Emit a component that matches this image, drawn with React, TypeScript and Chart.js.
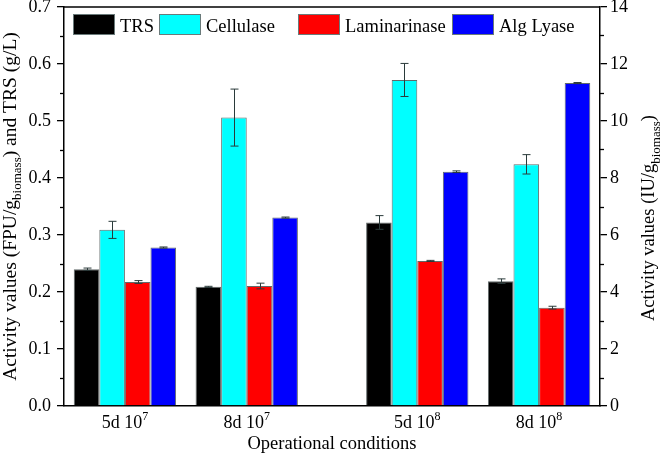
import React, { useEffect, useRef } from "react";
import { Chart, registerables } from "chart.js";

Chart.register(...registerables);

// Operational conditions (the part after "^" is drawn as a superscript)
const conditionLabels = ["5d 10^7", "8d 10^7", "5d 10^8", "8d 10^8"];
// Positions of the groups on the x axis (the two inocula are set apart)
const groupPositions = [1, 2, 3.4, 4.4];

// Left axis: TRS (g/L) and cellulase (FPU/g biomass)
const trs = [0.24, 0.209, 0.322, 0.219];
const trsErr = [0.002, 0.001, 0.012, 0.004];
const cellulase = [0.309, 0.506, 0.572, 0.424];
const cellulaseErr = [0.015, 0.05, 0.029, 0.017];

// Right axis: laminarinase and alginate lyase (IU/g biomass)
const laminarinase = [4.35, 4.21, 5.09, 3.45];
const laminarinaseErr = [0.05, 0.1, 0.02, 0.05];
const algLyase = [5.56, 6.61, 8.22, 11.33];
const algLyaseErr = [0.02, 0.02, 0.03, 0.02];

// Axis ranges
const leftMax = 0.7;
const leftStep = 0.1;
const rightMax = 14;
const rightStep = 2;

const FONT = '"Liberation Serif", "Times New Roman", Times, serif';

type Part = [string, "n" | "sub" | "sup"];

function partFont(kind: string, size: number) {
  return `${kind === "n" ? size : Math.round(size * 0.68)}px ${FONT}`;
}

// Draws a run of text with sub/superscripts, centred on x, baseline y
function drawRich(ctx: CanvasRenderingContext2D, parts: Part[], x: number, y: number, size: number) {
  let total = 0;
  const widths = parts.map(([t, k]) => {
    ctx.font = partFont(k, size);
    const w = ctx.measureText(t).width;
    total += w;
    return w;
  });
  let cx = x - total / 2;
  ctx.textAlign = "left";
  ctx.textBaseline = "alphabetic";
  parts.forEach(([t, k], i) => {
    ctx.font = partFont(k, size);
    const dy = k === "sub" ? size * 0.3 : k === "sup" ? -size * 0.42 : 0;
    ctx.fillText(t, cx, y + dy);
    cx += widths[i];
  });
}

function splitSup(label: string): Part[] {
  const [base, exp] = label.split("^");
  return exp ? [[base, "n"], [exp, "sup"]] : [[base, "n"]];
}

const errorsByDataset = [trsErr, cellulaseErr, laminarinaseErr, algLyaseErr];

const decorPlugin = {
  id: "decor",
  afterDatasetsDraw(chart: any) {
    const ctx: CanvasRenderingContext2D = chart.ctx;
    ctx.save();
    ctx.strokeStyle = "#2a3a3a";
    ctx.lineWidth = 1;
    chart.data.datasets.forEach((ds: any, di: number) => {
      const meta = chart.getDatasetMeta(di);
      const yScale = chart.scales[meta.yAxisID];
      const errs = errorsByDataset[di];
      meta.data.forEach((bar: any, i: number) => {
        const v = ds.data[i].y;
        const e = errs[i];
        const yt = yScale.getPixelForValue(v + e);
        const yb = yScale.getPixelForValue(v - e);
        const x = Math.round(bar.x) + 0.5;
        const cap = 4;
        ctx.beginPath();
        ctx.moveTo(x, yt);
        ctx.lineTo(x, yb);
        ctx.moveTo(x - cap, yt);
        ctx.lineTo(x + cap, yt);
        ctx.moveTo(x - cap, yb);
        ctx.lineTo(x + cap, yb);
        ctx.stroke();
      });
    });
    ctx.restore();
  },
  afterDraw(chart: any) {
    const ctx: CanvasRenderingContext2D = chart.ctx;
    const area = chart.chartArea;
    ctx.save();
    ctx.fillStyle = "#000";
    ctx.strokeStyle = "#000";

    // top frame line
    ctx.lineWidth = 1.5;
    ctx.beginPath();
    ctx.moveTo(area.left, area.top);
    ctx.lineTo(area.right, area.top);
    ctx.stroke();

    // minor ticks halfway between major ticks
    ctx.lineWidth = 1.3;
    const minor = (scale: any, x0: number, dir: number) => {
      const ticks = scale.ticks;
      for (let i = 0; i < ticks.length - 1; i++) {
        const y = Math.round(scale.getPixelForValue((ticks[i].value + ticks[i + 1].value) / 2)) + 0.5;
        ctx.beginPath();
        ctx.moveTo(x0, y);
        ctx.lineTo(x0 + dir * 4, y);
        ctx.stroke();
      }
    };
    minor(chart.scales.y, area.left, -1);
    minor(chart.scales.y1, area.right, 1);

    // legend inside the plot
    const boxX = [73, 159, 298, 452];
    chart.data.datasets.forEach((ds: any, i: number) => {
      const bx = boxX[i];
      ctx.fillStyle = ds.backgroundColor;
      ctx.fillRect(bx, 14, 42, 21);
      ctx.strokeStyle = "#6a7a7a";
      ctx.lineWidth = 1;
      ctx.strokeRect(bx + 0.5, 14.5, 41, 20);
      ctx.fillStyle = "#000";
      ctx.font = `18.5px ${FONT}`;
      ctx.textAlign = "left";
      ctx.textBaseline = "alphabetic";
      ctx.fillText(ds.label, bx + 47, 31.5);
    });

    // x category labels
    const xs = chart.scales.x;
    conditionLabels.forEach((lab, i) => {
      drawRich(ctx, splitSup(lab), xs.getPixelForValue(groupPositions[i]), 428, 18);
    });

    // x axis title
    drawRich(ctx, [["Operational conditions", "n"]], (area.left + area.right) / 2, 449, 18.5);

    // left axis title
    ctx.save();
    ctx.translate(15.5, (area.top + area.bottom) / 2);
    ctx.rotate(-Math.PI / 2);
    drawRich(
      ctx,
      [
        ["Activity values (FPU/g", "n"],
        ["biomass", "sub"],
        [") and TRS (g/L)", "n"],
      ],
      0,
      0,
      19.5
    );
    ctx.restore();

    // right axis title
    ctx.save();
    ctx.translate(654, 218);
    ctx.rotate(-Math.PI / 2);
    drawRich(
      ctx,
      [
        ["Activity values (IU/g", "n"],
        ["biomass", "sub"],
        [")", "n"],
      ],
      0,
      0,
      18.5
    );
    ctx.restore();

    ctx.restore();
  },
};

function toPoints(values: number[]) {
  return values.map((y, i) => ({ x: groupPositions[i], y }));
}

export default function App() {
  const canvasRef = useRef<HTMLCanvasElement | null>(null);

  useEffect(() => {
    const canvas = canvasRef.current;
    if (!canvas) return;
    const barBorder = "rgba(70,80,80,0.85)";
    const chart = new Chart(canvas, {
      type: "bar",
      data: {
        datasets: [
          { label: "TRS", data: toPoints(trs), yAxisID: "y", backgroundColor: "#000000", borderColor: barBorder, borderWidth: 1 },
          { label: "Cellulase", data: toPoints(cellulase), yAxisID: "y", backgroundColor: "#00ffff", borderColor: barBorder, borderWidth: 1 },
          { label: "Laminarinase", data: toPoints(laminarinase), yAxisID: "y1", backgroundColor: "#ff0000", borderColor: barBorder, borderWidth: 1 },
          { label: "Alg Lyase", data: toPoints(algLyase), yAxisID: "y1", backgroundColor: "#0000ff", borderColor: barBorder, borderWidth: 1 },
        ] as any,
      },
      options: {
        animation: false,
        responsive: true,
        maintainAspectRatio: false,
        layout: { padding: { top: 7, left: 0, right: 0, bottom: 0 } },
        datasets: { bar: { categoryPercentage: 0.84, barPercentage: 1 } } as any,
        plugins: { legend: { display: false }, tooltip: { enabled: false }, title: { display: false } },
        scales: {
          x: {
            type: "linear",
            min: 0.5,
            max: 4.9,
            offset: false,
            grid: { display: false, offset: false },
            border: { display: true, color: "#000", width: 1.5 },
            ticks: { display: false },
            afterBuildTicks: (scale: any) => {
              scale.ticks = groupPositions.map((v) => ({ value: v }));
            },
            afterFit: (scale: any) => {
              scale.height = 50;
              scale.paddingLeft = 0;
              scale.paddingRight = 0;
            },
          },
          y: {
            type: "linear",
            position: "left",
            min: 0,
            max: leftMax,
            grid: { drawOnChartArea: false, drawTicks: true, tickLength: 7, color: "#000", lineWidth: 1.3 },
            border: { display: true, color: "#000", width: 1.5 },
            ticks: {
              stepSize: leftStep,
              padding: 6,
              color: "#000",
              font: { family: FONT, size: 18 },
              callback: (v: any) => Number(v).toFixed(1),
            },
            afterFit: (scale: any) => {
              scale.width = 64;
              scale.paddingTop = 0;
              scale.paddingBottom = 0;
            },
          },
          y1: {
            type: "linear",
            position: "right",
            min: 0,
            max: rightMax,
            grid: { drawOnChartArea: false, drawTicks: true, tickLength: 7, color: "#000", lineWidth: 1.3 },
            border: { display: true, color: "#000", width: 1.5 },
            ticks: {
              stepSize: rightStep,
              padding: 3,
              color: "#000",
              font: { family: FONT, size: 18 },
            },
            afterFit: (scale: any) => {
              scale.width = 61;
              scale.paddingTop = 0;
              scale.paddingBottom = 0;
            },
          },
        },
      } as any,
      plugins: [decorPlugin],
    });
    return () => chart.destroy();
  }, []);

  return (
    <div style={{ position: "fixed", left: 0, top: 0, width: 661, height: 456, background: "#fff" }}>
      <canvas ref={canvasRef} />
    </div>
  );
}
